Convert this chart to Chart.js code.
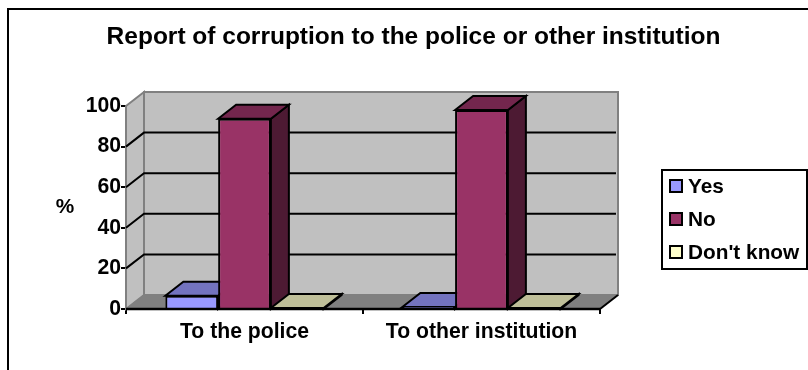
<!DOCTYPE html>
<html>
<head>
<meta charset="utf-8">
<style>
  html, body { margin: 0; padding: 0; background: #fff; overflow: hidden; }
  canvas { display: block; }
</style>
<script src="https://cdn.jsdelivr.net/npm/chart.js@4/dist/chart.umd.min.js"></script>
</head>
<body>
<canvas id="chart" width="808" height="370"></canvas>
<script>
const categories = ["To the police", "To other institution"];
const yesValues = [6.5, 1];
const noValues = [93.7, 98];
const dontKnowValues = [0.5, 0.5];

const FAMILY = "'Liberation Sans', Arial, sans-serif";
const DX = 18;
const DY = -14;

function poly(ctx, pts, fill, stroke, width) {
  ctx.beginPath();
  pts.forEach((p, i) => (i ? ctx.lineTo(p[0], p[1]) : ctx.moveTo(p[0], p[1])));
  ctx.closePath();
  if (fill) {
    ctx.fillStyle = fill;
    ctx.fill();
  }
  if (stroke) {
    ctx.strokeStyle = stroke;
    ctx.lineWidth = width;
    ctx.stroke();
  }
}

// walls, floor and the side/top faces of the bars
const box3d = {
  id: "box3d",
  beforeDatasetsDraw(chart) {
    const { ctx, chartArea, scales } = chart;
    const l = chartArea.left;
    const r = chartArea.right;
    const y0 = scales.y.getPixelForValue(0);
    const y100 = scales.y.getPixelForValue(100);
    ctx.save();
    poly(ctx, [[l + DX, y100 + DY], [r + DX, y100 + DY], [r + DX, y0 + DY], [l + DX, y0 + DY]], "#c0c0c0", "#808080", 2);
    poly(ctx, [[l, y100], [l + DX, y100 + DY], [l + DX, y0 + DY], [l, y0]], "#c0c0c0", "#808080", 2);
    poly(ctx, [[l, y0], [l + DX, y0 + DY], [r + DX, y0 + DY], [r, y0]], "#808080", "#808080", 1);

    ctx.strokeStyle = "#000";
    ctx.lineWidth = 2;
    scales.y.ticks.forEach((t) => {
      if (t.value === 0 || t.value === 100) return;
      const y = scales.y.getPixelForValue(t.value);
      ctx.beginPath();
      ctx.moveTo(l, y);
      ctx.lineTo(l + DX, y + DY);
      ctx.lineTo(r + DX - 2, y + DY);
      ctx.stroke();
    });
    ctx.beginPath();
    ctx.moveTo(r, y0);
    ctx.lineTo(r + DX, y0 + DY);
    ctx.stroke();

    chart.data.datasets.forEach((ds, i) => {
      chart.getDatasetMeta(i).data.forEach((bar) => {
        const a = bar.x - bar.width / 2;
        const b = bar.x + bar.width / 2;
        poly(ctx, [[b, bar.y], [b + DX, bar.y + DY], [b + DX, y0 + DY], [b, y0]], ds.sideColor, "#000", 2);
        poly(ctx, [[a, bar.y], [a + DX, bar.y + DY], [b + DX, bar.y + DY], [b, bar.y]], ds.topColor, "#000", 2);
      });
    });
    ctx.restore();
  },
  afterDraw(chart) {
    const { ctx, scales, chartArea } = chart;
    ctx.save();
    // outer frame, runs off the right and bottom of the picture
    ctx.strokeStyle = "#000";
    ctx.lineWidth = 2;
    ctx.beginPath();
    ctx.moveTo(8, 370);
    ctx.lineTo(8, 9);
    ctx.lineTo(808, 9);
    ctx.stroke();

    // baseline goes back over the bar fills
    const y0 = scales.y.getPixelForValue(0);
    ctx.lineWidth = 2.5;
    ctx.beginPath();
    ctx.moveTo(chartArea.left, y0);
    ctx.lineTo(chartArea.right, y0);
    ctx.stroke();

    ctx.font = "bold 20.8px " + FAMILY;
    ctx.fillStyle = "#000";
    ctx.textBaseline = "middle";
    ctx.textAlign = "center";
    ctx.fillText("%", 65, scales.y.getPixelForValue(50));

    // legend
    ctx.textAlign = "left";
    ctx.lineWidth = 2;
    ctx.strokeRect(662, 170, 145, 99);
    chart.data.datasets.forEach((ds, i) => {
      const cy = 186 + i * 33;
      ctx.fillStyle = ds.backgroundColor;
      ctx.fillRect(670, cy - 6, 12, 12);
      ctx.strokeRect(670, cy - 6, 12, 12);
      ctx.fillStyle = "#000";
      ctx.fillText(ds.label, 688, cy + 1);
    });
    ctx.restore();
  },
};

new Chart(document.getElementById("chart"), {
  type: "bar",
  plugins: [box3d],
  data: {
    labels: categories,
    datasets: [
      { label: "Yes", data: yesValues, backgroundColor: "#9999ff", topColor: "#7373bf", sideColor: "#4d4d80" },
      { label: "No", data: noValues, backgroundColor: "#993366", topColor: "#73264d", sideColor: "#4d1a33" },
      { label: "Don't know", data: dontKnowValues, backgroundColor: "#ffffcc", topColor: "#bfbf99", sideColor: "#808066" },
    ],
  },
  options: {
    responsive: false,
    animation: false,
    layout: { padding: { left: 19, right: 0, top: 0, bottom: 0 } },
    datasets: {
      bar: {
        barPercentage: 1,
        categoryPercentage: 0.668,
        borderColor: "#000",
        borderWidth: 2,
        borderSkipped: "bottom",
      },
    },
    plugins: {
      legend: { display: false },
      tooltip: { enabled: false },
      title: {
        display: true,
        text: "Report of corruption to the police or other institution",
        color: "#000",
        font: { family: FAMILY, size: 24.5, weight: "bold", lineHeight: 1.2 },
        padding: { top: 22.5, bottom: 54.1 },
      },
    },
    scales: {
      x: {
        afterFit(scale) {
          scale.height = 61;
        },
        border: { color: "#000", width: 2 },
        grid: { drawOnChartArea: false, color: "#000", lineWidth: 2, tickLength: 5 },
        ticks: {
          color: "#000",
          padding: 5,
          maxRotation: 0,
          font: { family: FAMILY, size: 21.2, weight: "bold" },
        },
      },
      y: {
        min: 0,
        max: 100,
        afterFit(scale) {
          scale.width = 107;
        },
        border: { color: "#000", width: 2 },
        grid: { drawOnChartArea: false, color: "#000", lineWidth: 2, tickLength: 5 },
        ticks: {
          stepSize: 20,
          color: "#000",
          padding: 0,
          font: { family: FAMILY, size: 21.2, weight: "bold" },
        },
      },
      // empty axis that keeps the legend's room to the right of the plot
      legendRoom: {
        axis: "y",
        position: "right",
        afterFit(scale) {
          scale.width = 208;
        },
        border: { display: false },
        grid: { display: false },
        ticks: { display: false },
      },
    },
  },
});
</script>
</body>
</html>
